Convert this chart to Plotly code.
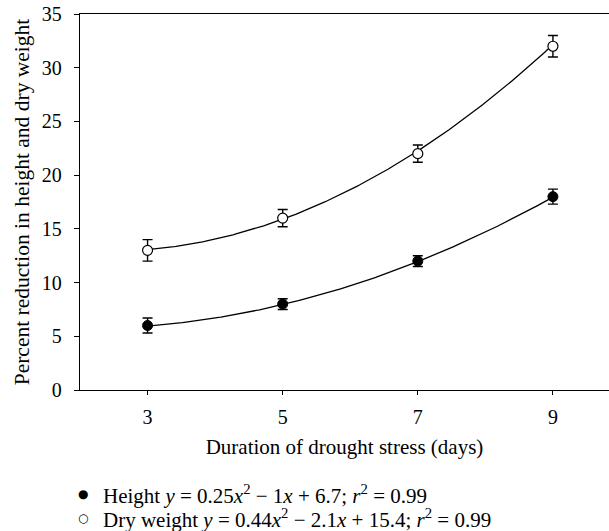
import numpy as np
import plotly.graph_objects as go

days = [3, 5, 7, 9]
height_red = [6, 8, 12, 18]
height_err = [0.7, 0.5, 0.5, 0.7]
dry_red = [13, 16, 22, 32]
dry_err = [1.0, 0.8, 0.8, 1.0]
# fitted quadratic coefficients shown in the legend (a, b, c)
height_fit = [0.25, -1.0, 6.7]
dry_fit = [0.44, -2.1, 15.4]
y_ticks = [0, 5, 10, 15, 20, 25, 30, 35]
legend_texts = [
    "Height <i>y</i> = 0.25<i>x</i><sup>2</sup> − 1<i>x</i> + 6.7; <i>r</i><sup>2</sup> = 0.99",
    "Dry weight <i>y</i> = 0.44<i>x</i><sup>2</sup> − 2.1<i>x</i> + 15.4; <i>r</i><sup>2</sup> = 0.99",
]
legend_symbols = ["●", "○"]

FONT = "Liberation Serif, Times New Roman, serif"
W, H = 609, 531
L, R, T = 80, 0, 14
B = H - 390
PW, PH = W - L - R, H - T - B

xs = np.linspace(min(days), max(days), 200)

fig = go.Figure()
for coef in (height_fit, dry_fit):
    fig.add_trace(go.Scatter(x=xs, y=np.polyval(coef, xs), mode="lines",
                             line=dict(color="black", width=1.3),
                             showlegend=False, hoverinfo="skip"))

fig.add_trace(go.Scatter(
    x=days, y=height_red, mode="markers", showlegend=False,
    marker=dict(symbol="circle", size=10, color="black", line=dict(color="black", width=1)),
    error_y=dict(type="data", array=height_err, color="black", thickness=1.4, width=5)))
fig.add_trace(go.Scatter(
    x=days, y=dry_red, mode="markers", showlegend=False,
    marker=dict(symbol="circle", size=10, color="white", line=dict(color="black", width=1.2)),
    error_y=dict(type="data", array=dry_err, color="black", thickness=1.4, width=5)))

# legend drawn as text rows below the plot (page pixel rows)
row_y = [494, 518]
for sym, txt, yp in zip(legend_symbols, legend_texts, row_y):
    py = (T + PH - yp) / PH
    fig.add_annotation(xref="paper", yref="paper", x=(83 - L) / PW, y=py,
                       text=sym, showarrow=False, xanchor="center", yanchor="middle",
                       font=dict(family="DejaVu Sans", size=12, color="black"))
    fig.add_annotation(xref="paper", yref="paper", x=(101 - L) / PW, y=py,
                       text=txt, showarrow=False, xanchor="left", yanchor="middle",
                       font=dict(family=FONT, size=21, color="black"))

fig.update_layout(
    width=W, height=H,
    margin=dict(l=L, r=R, t=T, b=B, autoexpand=False),
    paper_bgcolor="white", plot_bgcolor="white",
    font=dict(family=FONT, size=20, color="black"),
    showlegend=False,
    xaxis=dict(range=[2, 9.83], tickvals=days, ticktext=[str(d) for d in days],
               showline=True, linecolor="black", linewidth=1.3, mirror=True,
               ticks="outside", ticklen=4, tickwidth=1.2, tickcolor="black",
               showgrid=False, zeroline=False, automargin=False,
               ticklabelstandoff=5, ticklabeloverflow="allow",
               tickfont=dict(family=FONT, size=20),
               title=dict(text="Duration of drought stress (days)",
                          font=dict(family=FONT, size=21), standoff=12)),
    yaxis=dict(range=[0, 35], tickvals=y_ticks,
               showline=True, linecolor="black", linewidth=1.3,
               ticks="outside", ticklen=5, tickwidth=1.2, tickcolor="black",
               showgrid=False, zeroline=False, automargin=False,
               ticklabelstandoff=8, ticklabeloverflow="allow",
               tickfont=dict(family=FONT, size=20),
               title=dict(text="Percent reduction in height and dry weight",
                          font=dict(family=FONT, size=21.5), standoff=6)),
)

fig.write_html("out.html", config={"displayModeBar": False},
               post_script="document.body.style.margin='0';")
